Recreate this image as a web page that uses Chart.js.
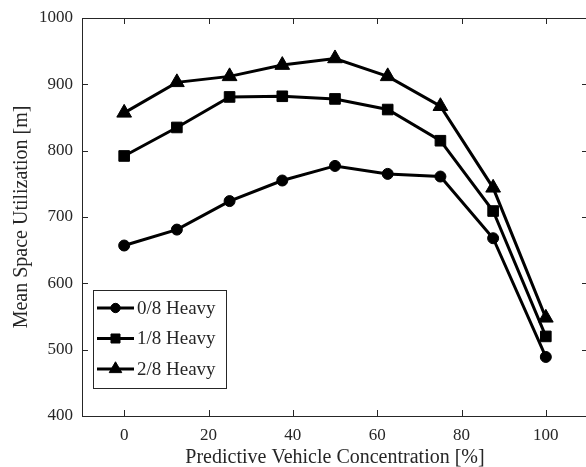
<!DOCTYPE html>
<html>
<head>
<meta charset="utf-8">
<script src="https://cdn.jsdelivr.net/npm/chart.js@4/dist/chart.umd.min.js"></script>
<style>
  html, body { margin: 0; padding: 0; background: #fff; }
  #wrap { width: 586px; height: 467px; overflow: hidden; }
</style>
</head>
<body>
<div id="wrap"><canvas id="chart" width="589" height="467"></canvas></div>
<script>
// --- Data ---
const concentration = [0, 12.5, 25, 37.5, 50, 62.5, 75, 87.5, 100];
const heavy0 = [657, 681, 724, 755, 777, 765, 761, 668, 489];
const heavy1 = [792, 835, 881, 882, 878, 862, 815, 709, 520];
const heavy2 = [857, 903, 912, 929, 939, 912, 867, 744, 548];
const seriesLabels = ['0/8 Heavy', '1/8 Heavy', '2/8 Heavy'];
const xTicks = [0, 20, 40, 60, 80, 100];
const yTicks = [400, 500, 600, 700, 800, 900, 1000];

const FONT = '"Liberation Serif", "DejaVu Serif", serif';
const AXIS = '#262626';

function toPoints(values) {
    return values.map((v, i) => ({ x: concentration[i], y: v }));
}

// box with inside ticks on all four sides (matlab style)
const frameTicks = {
    id: 'frameTicks',
    beforeDatasetsDraw(chart) {
        const { ctx, chartArea: a, scales: { x, y } } = chart;
        ctx.save();
        ctx.strokeStyle = AXIS;
        ctx.lineWidth = 1;
        ctx.strokeRect(a.left + 0.5, a.top + 0.5, a.right - a.left, a.bottom - a.top);
        ctx.beginPath();
        x.ticks.forEach(t => {
            const px = Math.round(x.getPixelForValue(t.value)) + 0.5;
            ctx.moveTo(px, a.bottom); ctx.lineTo(px, a.bottom - 6);
            ctx.moveTo(px, a.top); ctx.lineTo(px, a.top + 6);
        });
        y.ticks.forEach(t => {
            const py = Math.round(y.getPixelForValue(t.value)) + 0.5;
            ctx.moveTo(a.left, py); ctx.lineTo(a.left + 6, py);
            ctx.moveTo(a.right, py); ctx.lineTo(a.right - 6, py);
        });
        ctx.stroke();
        ctx.restore();
    }
};

// legend box inside the plot, lower left
const insideLegend = {
    id: 'insideLegend',
    afterDatasetsDraw(chart) {
        const { ctx } = chart;
        const box = { left: 93.5, top: 290.5, width: 133, height: 98 };
        ctx.save();
        ctx.fillStyle = '#fff';
        ctx.fillRect(box.left, box.top, box.width, box.height);
        ctx.strokeStyle = AXIS;
        ctx.lineWidth = 1;
        ctx.strokeRect(box.left, box.top, box.width, box.height);
        chart.data.datasets.forEach((ds, i) => {
            const cy = 308 + i * 30.5;
            ctx.strokeStyle = ds.borderColor;
            ctx.lineWidth = ds.borderWidth;
            ctx.beginPath();
            ctx.moveTo(97, cy); ctx.lineTo(134, cy);
            ctx.stroke();
            ctx.fillStyle = ds.pointBackgroundColor;
            ctx.strokeStyle = ds.pointBorderColor;
            ctx.lineWidth = ds.pointBorderWidth;
            Chart.helpers.drawPoint(ctx, {
                pointStyle: ds.pointStyle, radius: ds.pointRadius * 0.85, rotation: 0, borderWidth: ds.pointBorderWidth
            }, 115.5, cy);
            ctx.fillStyle = AXIS;
            ctx.font = '19px ' + FONT;
            ctx.textBaseline = 'middle';
            ctx.fillText(ds.label, 137, cy + 1);
        });
        ctx.restore();
    }
};

function makeSet(label, values, style, radius) {
    return {
        label: label,
        data: toPoints(values),
        borderColor: '#000',
        backgroundColor: '#000',
        borderWidth: 3,
        pointStyle: style,
        pointRadius: radius,
        pointBackgroundColor: '#000',
        pointBorderColor: '#000',
        pointBorderWidth: 1,
        tension: 0
    };
}

new Chart(document.getElementById('chart').getContext('2d'), {
    type: 'line',
    data: {
        datasets: [
            makeSet(seriesLabels[0], heavy0, 'circle', 5.5),
            makeSet(seriesLabels[1], heavy1, 'rect', 7.5),
            makeSet(seriesLabels[2], heavy2, 'triangle', 8.5)
        ]
    },
    options: {
        responsive: false,
        animation: false,
        layout: { autoPadding: false, padding: { top: 18, right: 1, left: 0, bottom: 0 } },
        plugins: { legend: { display: false }, tooltip: { enabled: false } },
        scales: {
            x: {
                type: 'linear',
                min: -10, max: 110,
                afterBuildTicks: s => { s.ticks = xTicks.map(v => ({ value: v })); },
                afterFit: s => { s.height = 51; s.paddingLeft = 0; s.paddingRight = 0; },
                grid: { display: false, drawTicks: false },
                border: { display: false },
                ticks: { color: AXIS, font: { family: FONT, size: 17 }, padding: 9, maxRotation: 0,
                         callback: v => String(v) },
                title: { display: true, text: 'Predictive Vehicle Concentration [%]', color: AXIS,
                         font: { family: FONT, size: 20 }, padding: { top: 0, bottom: -3 } }
            },
            y: {
                min: 400, max: 1000,
                afterBuildTicks: s => { s.ticks = yTicks.map(v => ({ value: v })); },
                afterFit: s => { s.width = 82; s.paddingTop = 0; s.paddingBottom = 0; },
                grid: { display: false, drawTicks: false },
                border: { display: false },
                ticks: { color: AXIS, font: { family: FONT, size: 17 }, padding: 9,
                         callback: v => String(v) },
                title: { display: true, text: 'Mean Space Utilization [m]', color: AXIS,
                         font: { family: FONT, size: 20 }, padding: { top: 10, bottom: 0 } }
            }
        }
    },
    plugins: [frameTicks, insideLegend]
});
</script>
</body>
</html>
